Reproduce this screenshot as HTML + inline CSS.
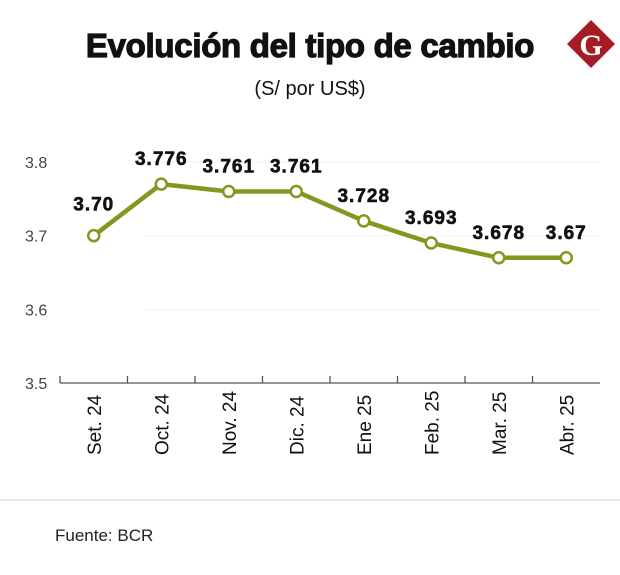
<!DOCTYPE html>
<html><head><meta charset="utf-8"><style>
body{margin:0;background:#fff;width:620px;height:570px;overflow:hidden;font-family:"Liberation Sans",sans-serif}
</style></head><body>
<svg width="620" height="570" xmlns="http://www.w3.org/2000/svg">
<text x="310" y="57" text-anchor="middle" font-size="33" font-weight="bold" fill="#111" stroke="#111" stroke-width="1.2" style="letter-spacing:-0.3px">Evolución del tipo de cambio</text>
<text x="310" y="95" text-anchor="middle" font-size="20" fill="#111">(S/ por US$)</text>
<g>
<polygon points="591,20 615,44 591,68 567,44" fill="#a51c24"/>
<text x="591" y="55" text-anchor="middle" font-family="Liberation Serif,serif" font-size="30" font-weight="bold" fill="#fff">G</text>
</g>
<g id="grid"></g><g id="axis"></g><g id="series"></g>
<line x1="0" y1="500" x2="620" y2="500" stroke="#ccc" stroke-width="1"/>
<text x="55" y="541" font-size="17" fill="#222">Fuente: BCR</text>
</svg>
<script>
const categories=["Set. 24","Oct. 24","Nov. 24","Dic. 24","Ene 25","Feb. 25","Mar. 25","Abr. 25"];
const values=[3.70,3.77,3.76,3.76,3.72,3.69,3.67,3.67];
const valueLabels=["3.70","3.776","3.761","3.761","3.728","3.693","3.678","3.67"];
const yTicks=[3.5,3.6,3.7,3.8];
const NS="http://www.w3.org/2000/svg";
const x0=60,x1=600,yMin=3.5,yMax=3.8,yB=383,yT=162;
const step=(x1-x0)/categories.length;
const xs=i=>x0+step*(i+0.5);
const ys=v=>yB-(v-yMin)/(yMax-yMin)*(yB-yT);
function mk(t,a,p){const e=document.createElementNS(NS,t);for(const k in a)e.setAttribute(k,a[k]);p.appendChild(e);return e;}
const grid=document.getElementById('grid'),axis=document.getElementById('axis'),ser=document.getElementById('series');
yTicks.forEach(v=>{
  if(v>yMin){const l=mk('line',{x1:x0+85,x2:x1,y1:ys(v),y2:ys(v),stroke:'#f2f2f2','stroke-width':1},grid);
  
  }
  const t=mk('text',{x:25,y:ys(v)+6,'font-size':16,fill:'#444'},axis);t.textContent=v.toFixed(1);
  
  
});
const ax=mk('line',{x1:x0,x2:x1,y1:yB,y2:yB,stroke:'#555','stroke-width':1.3},axis);


for(let i=0;i<categories.length;i++){
  const tk=mk('line',{x1:x0+step*i,x2:x0+step*i,y1:yB-7,y2:yB,stroke:'#555','stroke-width':1.3},axis);
  
  
  const t=mk('text',{transform:`translate(${xs(i)+7},${455}) rotate(-90)`,'font-size':19,fill:'#111'},axis);
  t.textContent=categories[i];
  
  
}
const pl=mk('polyline',{points:values.map((v,i)=>xs(i)+','+ys(v)).join(' '),fill:'none',stroke:'#7f9a1f','stroke-width':4.5,'stroke-linejoin':'round'},ser);


values.forEach((v,i)=>{
  const c=mk('circle',{cx:xs(i),cy:ys(v),r:5.5,fill:'#fff',stroke:'#7f9a1f','stroke-width':2.5},ser);
  
  
  const t=mk('text',{x:xs(i),y:i==0?ys(v)-25:ys(v)-19,'text-anchor':'middle','font-size':19,'font-weight':'bold',fill:'#111',stroke:'#111','stroke-width':0.6,style:'letter-spacing:1px'},ser);
  t.textContent=valueLabels[i];
  
  
});
</script>
</body></html>
